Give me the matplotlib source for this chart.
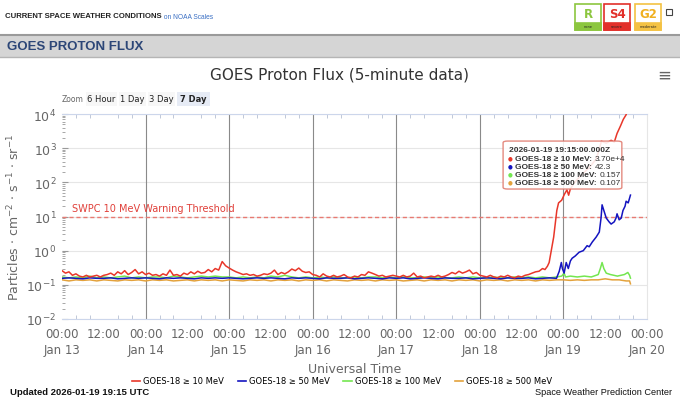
import matplotlib
matplotlib.use("Agg")
import matplotlib.pyplot as plt
from matplotlib.patches import Rectangle, FancyBboxPatch
from matplotlib.lines import Line2D
import numpy as np

# hours since 2026-01-13 00:00 UTC
red_base = [0.26, 0.22, 0.24, 0.19, 0.21, 0.18, 0.17, 0.19, 0.17, 0.18, 0.19, 0.17,
            0.19, 0.20, 0.22, 0.19, 0.24, 0.21, 0.26, 0.20, 0.23, 0.28, 0.21, 0.24,
            0.20, 0.22, 0.19, 0.20, 0.18, 0.21, 0.19, 0.27, 0.19, 0.20, 0.18, 0.22,
            0.20, 0.24, 0.21, 0.25, 0.22, 0.23, 0.28, 0.24, 0.30, 0.27, 0.48, 0.36,
            0.31, 0.27, 0.24, 0.22, 0.20, 0.21, 0.19, 0.20, 0.18, 0.19, 0.21, 0.20,
            0.22, 0.27, 0.20, 0.23, 0.21, 0.24, 0.29, 0.26, 0.31, 0.25, 0.23, 0.24,
            0.20, 0.19, 0.17, 0.21, 0.18, 0.17, 0.19, 0.17, 0.18, 0.20, 0.17, 0.16,
            0.18, 0.17, 0.20, 0.19, 0.24, 0.22, 0.20, 0.18, 0.19, 0.17, 0.18, 0.19,
            0.18, 0.17, 0.19, 0.17, 0.18, 0.22, 0.17, 0.18, 0.16, 0.17, 0.18, 0.17,
            0.19, 0.17, 0.18, 0.20, 0.23, 0.21, 0.25, 0.22, 0.24, 0.27, 0.21, 0.23,
            0.19, 0.18, 0.17, 0.19, 0.17, 0.16, 0.18, 0.17, 0.19, 0.17, 0.16, 0.18,
            0.17, 0.19, 0.20, 0.22, 0.24]
red_evt_t = [137.0, 138.0, 138.7, 139.4, 139.9, 140.5, 141.2, 141.7, 142.1, 142.6,
             143.5, 144.3, 145.0, 145.5, 146.0, 147.1, 148.5, 151.4, 153.4, 154.2,
             154.9, 156.3, 157.7, 158.6, 159.4, 160.4, 161.2, 162.0, 163.25]
red_evt_v = [0.25, 0.30, 0.28, 0.35, 0.45, 1.0, 2.5, 7, 15, 25,
             30, 45, 60, 42, 65, 95, 140, 270, 480, 850,
             1600, 1400, 1700, 1500, 2700, 4500, 7000, 9500, 37000]

blue_base = [0.155, 0.16, 0.155, 0.15, 0.16, 0.155, 0.155, 0.16, 0.15, 0.155, 0.16, 0.155,
             0.16, 0.155, 0.15, 0.16, 0.155, 0.16, 0.155, 0.15, 0.16, 0.155, 0.16, 0.155,
             0.16, 0.155, 0.15, 0.155, 0.16, 0.155, 0.16, 0.155, 0.15, 0.16, 0.155, 0.16,
             0.155, 0.15, 0.16, 0.155, 0.155, 0.16, 0.15, 0.155, 0.16, 0.155, 0.15, 0.16,
             0.155, 0.16, 0.15, 0.155, 0.16, 0.155, 0.15, 0.16, 0.155, 0.155, 0.16, 0.15,
             0.155, 0.16, 0.155, 0.15, 0.16, 0.155, 0.155, 0.16, 0.15, 0.155, 0.16, 0.155]
blue_evt_t = [142.8, 143.4, 143.7, 144.2, 144.8, 145.4, 146.0, 146.5, 147.4, 148.5,
              149.7, 150.8, 151.4, 152.3, 153.4, 154.3, 154.8, 155.1, 155.7, 156.3,
              157.1, 157.7, 158.6, 159.1, 159.4, 160.0, 160.6, 161.1, 161.7, 162.0,
              162.6, 163.25]
blue_evt_v = [0.25, 0.45, 0.30, 0.22, 0.45, 0.30, 0.50, 0.60, 0.70, 0.90,
              1.0, 1.4, 1.3, 1.8, 2.5, 3.5, 9, 22, 14, 9,
              7, 6, 7, 9, 12, 8, 9, 15, 20, 28,
              25, 42.3]

green_base = [0.17, 0.16, 0.17, 0.16, 0.18, 0.16, 0.17, 0.16, 0.17, 0.18, 0.16, 0.17,
              0.16, 0.17, 0.17, 0.16, 0.18, 0.17, 0.16, 0.17, 0.18, 0.17, 0.18, 0.17,
              0.17, 0.16, 0.17, 0.16, 0.17, 0.16, 0.18, 0.17, 0.19, 0.17, 0.16, 0.17,
              0.16, 0.17, 0.16, 0.17, 0.16, 0.16, 0.17, 0.16, 0.17, 0.17, 0.16, 0.17,
              0.16, 0.17, 0.16, 0.16, 0.17, 0.16, 0.17, 0.16, 0.16, 0.17, 0.16, 0.17,
              0.16, 0.16, 0.17, 0.16, 0.16, 0.17, 0.16, 0.17, 0.16, 0.17, 0.16, 0.17]
green_evt_t = [143.5, 144.2, 144.6, 146.0, 148.0, 150.0, 152.0, 154.0, 154.6, 155.1,
               155.6, 156.3, 157.5, 158.5, 159.5, 160.5, 161.5, 162.5, 163.0, 163.25]
green_evt_v = [0.18, 0.22, 0.17, 0.18, 0.17, 0.18, 0.17, 0.20, 0.30, 0.45,
               0.30, 0.22, 0.20, 0.19, 0.18, 0.19, 0.20, 0.23, 0.19, 0.157]

orange_base = [0.14, 0.13, 0.14, 0.135, 0.14, 0.13, 0.14, 0.135, 0.13, 0.14, 0.135, 0.14,
               0.13, 0.14, 0.135, 0.14, 0.13, 0.135, 0.14, 0.13, 0.14, 0.135, 0.14, 0.13,
               0.14, 0.135, 0.13, 0.14, 0.135, 0.14, 0.13, 0.14, 0.135, 0.14, 0.13, 0.14,
               0.135, 0.14, 0.13, 0.14, 0.135, 0.13, 0.14, 0.135, 0.14, 0.13, 0.14, 0.135,
               0.14, 0.13, 0.135, 0.14, 0.13, 0.14, 0.135, 0.14, 0.13, 0.14, 0.135, 0.14,
               0.13, 0.14, 0.135, 0.14, 0.13, 0.14, 0.135, 0.14, 0.13, 0.14, 0.135, 0.14]
orange_evt_t = [144.0, 146.0, 148.0, 150.0, 152.0, 154.0, 156.0, 158.0, 160.0, 162.0, 163.0, 163.25]
orange_evt_v = [0.14, 0.135, 0.14, 0.135, 0.14, 0.14, 0.15, 0.14, 0.14, 0.13, 0.13, 0.107]

threshold = 10
day_labels = ["Jan 13", "Jan 14", "Jan 15", "Jan 16", "Jan 17", "Jan 18", "Jan 19", "Jan 20"]

red_t = list(range(len(red_base))) + red_evt_t
red_v = red_base + red_evt_v
two_h = list(range(0, 2 * len(blue_base), 2))
blue_t, blue_v = two_h + blue_evt_t, blue_base + blue_evt_v
green_t, green_v = two_h + green_evt_t, green_base + green_evt_v
orange_t, orange_v = two_h + orange_evt_t, orange_base + orange_evt_v

C_RED = "#e8372a"
C_BLUE = "#1414c0"
C_GREEN = "#74e650"
C_ORANGE = "#e3a23c"
GREY = "#666666"
NARROW = ["Liberation Sans", "DejaVu Sans"]


def fx(x):
    return x / 680


def fy(y):
    return 1 - y / 406


fig = plt.figure(figsize=(6.8, 4.06), dpi=100)
fig.patch.set_facecolor("white")

# main axes first, so annotations have a home
ax = fig.add_axes([fx(62), fy(320), 585 / 680, 205 / 406])

# header
hdr = fig.text(fx(5), fy(17), "CURRENT SPACE WEATHER CONDITIONS", family=NARROW, weight="bold",
               fontsize=5.6, va="center", color="#222222")
ax.annotate(" on NOAA Scales", xy=(1, 0.4), xycoords=hdr, fontsize=4.8, va="center",
            family=NARROW, color="#3a6fc4", annotation_clip=False)

badges = [("R", "none", "#8cc63f", "#8cc63f", 575),
          ("S4", "severe", "#e2302a", "#e2302a", 604),
          ("G2", "moderate", "#f4c243", "#f0b020", 635)]
for letter, word, col, tcol, x0 in badges:
    fig.add_artist(Rectangle((fx(x0), fy(31)), 26 / 680, 26 / 406, transform=fig.transFigure,
                             fc="white", ec=col, lw=1.2))
    fig.add_artist(Rectangle((fx(x0), fy(31)), 26 / 680, 7 / 406, transform=fig.transFigure,
                             fc=col, ec=col, lw=1.2))
    fig.text(fx(x0 + 13), fy(15), letter, ha="center", va="center", fontsize=8.5,
             weight="bold", color=tcol)
    fig.text(fx(x0 + 13), fy(27.5), word, ha="center", va="center", fontsize=2.5, color="#222222")
fig.add_artist(Rectangle((fx(666), fy(16)), 6 / 680, 6 / 406, transform=fig.transFigure,
                         fc="none", ec="#444444", lw=0.8))

fig.add_artist(Rectangle((0, fy(58)), 1, 22 / 406, transform=fig.transFigure,
                         fc="#d5d5d5", ec="none"))
fig.add_artist(Line2D([0, 1], [fy(36), fy(36)], transform=fig.transFigure, color="#9a9a9a", lw=1.5))
fig.add_artist(Line2D([0, 1], [fy(58), fy(58)], transform=fig.transFigure, color="#b5b5b5", lw=1.0))
fig.text(fx(7), fy(47), "GOES PROTON FLUX", family=NARROW, weight="bold", fontsize=9.5,
         va="center", color="#2c4677")

fig.text(0.5, fy(75), "GOES Proton Flux (5-minute data)", ha="center", va="center",
         fontsize=11, color="#333333")
fig.text(fx(664), fy(76), "\u2261", ha="center", va="center", fontsize=12, color=GREY)

# zoom buttons
fig.text(fx(62), fy(100), "Zoom", fontsize=5.5, va="center", color=GREY)
for lab, x0, w, sel in [("6 Hour", 86, 31, False), ("1 Day", 119, 27, False),
                        ("3 Day", 148, 27, False), ("7 Day", 177, 33, True)]:
    fig.add_artist(Rectangle((fx(x0), fy(107)), w / 680, 14 / 406, transform=fig.transFigure,
                             fc="#e6ebf5" if sel else "#f7f7f7", ec="none"))
    fig.text(fx(x0 + w / 2), fy(100), lab, ha="center", va="center", fontsize=6,
             color="#222222", weight="bold" if sel else "normal")

ax.set_yscale("log")
ax.set_ylim(1e-2, 1e4)
ax.set_xlim(0, 168)

for d in range(24, 168, 24):
    ax.axvline(d, color="#8a8a8a", lw=0.8, zorder=1)
ax.grid(True, axis="y", which="major", color="#e6e6e6", lw=0.8, zorder=0)
ax.set_axisbelow(True)

ax.axhline(threshold, color="#e87a72", lw=1.0, ls=(0, (3, 2)), zorder=2)
ax.text(3, threshold * 1.25, "SWPC 10 MeV Warning Threshold", color="#e0403a",
        fontsize=7, va="bottom", ha="left")

ax.plot(orange_t, orange_v, color=C_ORANGE, lw=1.1, zorder=3)
ax.plot(green_t, green_v, color=C_GREEN, lw=1.1, zorder=4)
ax.plot(blue_t, blue_v, color=C_BLUE, lw=1.1, zorder=5)
ax.plot(red_t, red_v, color=C_RED, lw=1.1, zorder=6)

ticks = list(range(0, 169, 12))
labels = []
for t in ticks:
    if t % 24 == 0:
        labels.append("00:00\n" + day_labels[t // 24])
    else:
        labels.append("12:00")
ax.set_xticks(ticks)
ax.set_xticklabels(labels, fontsize=8.5, color=GREY, linespacing=1.3)
ax.set_xticks(range(0, 169, 4), minor=True)
ax.tick_params(axis="x", which="both", direction="in", top=True, color="#c0c8d8")
ax.tick_params(axis="x", which="major", length=0, pad=6)
ax.tick_params(axis="x", which="minor", length=3, width=0.7)

ax.set_yticks([1e-2, 1e-1, 1e0, 1e1, 1e2, 1e3, 1e4])
ax.set_yticklabels([r"$10^{-2}$", r"$10^{-1}$", r"$10^{0}$", r"$10^{1}$",
                    r"$10^{2}$", r"$10^{3}$", r"$10^{4}$"], fontsize=9, color=GREY)
ax.yaxis.set_minor_locator(matplotlib.ticker.LogLocator(base=10, subs=np.arange(2, 10)))
ax.yaxis.set_minor_formatter(matplotlib.ticker.NullFormatter())
ax.tick_params(axis="y", which="major", length=4, direction="in", color="#999999", pad=4)
ax.tick_params(axis="y", which="minor", length=2.5, direction="in", color="#999999", width=0.6)

for side in ["top", "bottom"]:
    ax.spines[side].set_color("#ccd6eb")
ax.spines["left"].set_visible(False)
ax.spines["right"].set_color("#e6e6e6")

ax.set_ylabel(r"Particles $\cdot$ cm$^{-2}$ $\cdot$ s$^{-1}$ $\cdot$ sr$^{-1}$", fontsize=9,
              color=GREY)
ax.yaxis.set_label_coords(-0.068, 0.5)
ax.set_xlabel("Universal Time", fontsize=9, color=GREY, labelpad=4)

# tooltip
tip = FancyBboxPatch((0.754, 0.634), 0.203, 0.234, boxstyle="round,pad=0,rounding_size=0.008",
                     transform=ax.transAxes, fc="white", ec="#e07a6e", lw=1.0, alpha=0.88, zorder=10)
ax.add_patch(tip)
ax.text(0.764, 0.829, "2026-01-19 19:15:00.000Z", transform=ax.transAxes, fontsize=6,
        family=NARROW, weight="bold", color="#333333", va="center", zorder=11)
tip_rows = [("GOES-18 \u2265 10 MeV: ", "3.70e+4", C_RED),
            ("GOES-18 \u2265 50 MeV: ", "42.3", C_BLUE),
            ("GOES-18 \u2265 100 MeV: ", "0.157", C_GREEN),
            ("GOES-18 \u2265 500 MeV: ", "0.107", C_ORANGE)]
for i, (name, val, col) in enumerate(tip_rows):
    yy = 0.785 - i * 0.039
    ax.text(0.762, yy, "\u25cf", transform=ax.transAxes, fontsize=4, color=col,
            va="center", zorder=11)
    lab = ax.text(0.775, yy, name, transform=ax.transAxes, fontsize=6, weight="bold",
                  family=NARROW, color="#333333", va="center", zorder=11)
    ax.annotate(val, xy=(1, 0.5), xycoords=lab, fontsize=6, color="#333333",
                family=NARROW, va="center", ha="left", zorder=11)

# legend
handles = [Line2D([], [], color=c, lw=1.2) for c in (C_RED, C_BLUE, C_GREEN, C_ORANGE)]
names = ["GOES-18 \u2265 10 MeV", "GOES-18 \u2265 50 MeV", "GOES-18 \u2265 100 MeV",
         "GOES-18 \u2265 500 MeV"]
fig.legend(handles, names, loc="center", bbox_to_anchor=(0.503, fy(382)), ncol=4, frameon=False,
           fontsize=6, handlelength=1.0, handletextpad=0.4, columnspacing=1.6)

fig.text(fx(10), fy(393), "Updated 2026-01-19 19:15 UTC", fontsize=6.8, weight="bold",
         family=NARROW, va="center", color="#111111")
fig.text(fx(672), fy(393), "Space Weather Prediction Center", fontsize=6.6, ha="right",
         family=NARROW, va="center", color="#111111")

fig.savefig("out.png", dpi=100)
